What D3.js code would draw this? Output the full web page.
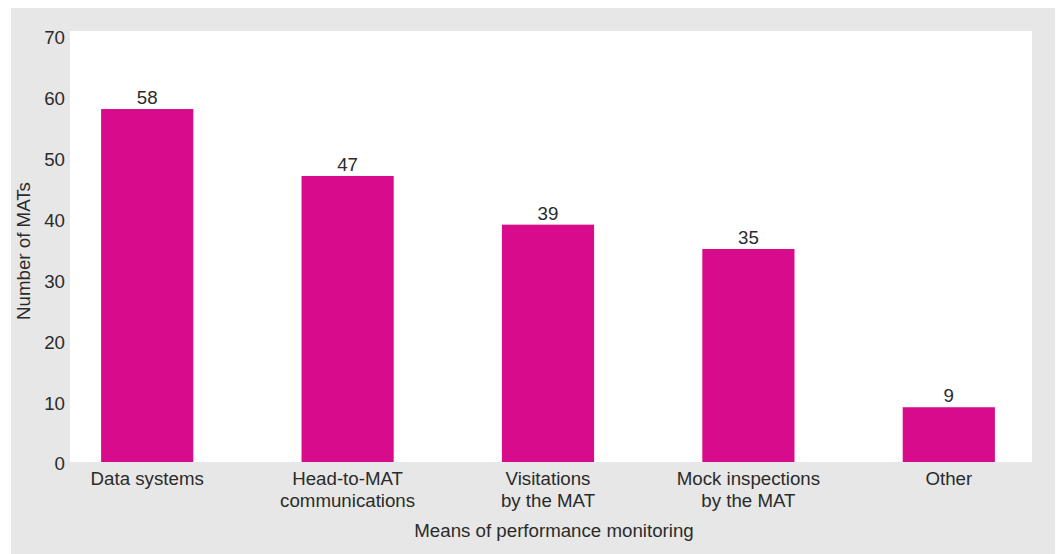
<!DOCTYPE html>
<html>
<head>
<meta charset="utf-8">
<script src="https://cdn.jsdelivr.net/npm/d3@7"></script>
<style>
  html, body { margin: 0; padding: 0; background: #ffffff; }
  svg { display: block; font-family: "Liberation Sans", Arial, Helvetica, sans-serif; }
</style>
</head>
<body>
<svg id="chart" width="1062" height="554"></svg>
<script>
// Means of performance monitoring used by MATs
const categories = [
  ["Data systems"],
  ["Head-to-MAT", "communications"],
  ["Visitations", "by the MAT"],
  ["Mock inspections", "by the MAT"],
  ["Other"]
];
const values = [58, 47, 39, 35, 9];
const yTicks = [0, 10, 20, 30, 40, 50, 60, 70];
const xTitle = "Means of performance monitoring";
const yTitle = "Number of MATs";

const svg = d3.select("#chart");
const textColor = "#2b2b2b";
const barColor = "#d80b8c";
const fs = 18.7;

// grey panel and white plotting area
svg.append("rect").attr("x", 11).attr("y", 8).attr("width", 1044).attr("height", 546).attr("fill", "#e6e7e6");
svg.append("rect").attr("x", 70).attr("y", 31).attr("width", 962).attr("height", 431).attr("fill", "#ffffff");

const keys = categories.map((c, i) => i);
const x = d3.scaleBand().domain(keys).range([47, 1049]).paddingInner(0.54).paddingOuter(0.27);
const y = d3.scaleLinear().domain([0, 70]).range([462, 36]);

// bars
svg.append("g").selectAll("rect").data(values).join("rect")
  .attr("x", (d, i) => x(i))
  .attr("y", d => y(d))
  .attr("width", x.bandwidth())
  .attr("height", d => y(0) - y(d))
  .attr("fill", barColor);

// value labels
svg.append("g").selectAll("text").data(values).join("text")
  .attr("x", (d, i) => x(i) + x.bandwidth() / 2)
  .attr("y", d => y(d) - 5)
  .attr("text-anchor", "middle")
  .attr("font-size", fs)
  .attr("fill", textColor)
  .text(d => d);

// y axis (labels only)
const yAxis = d3.axisLeft(y).tickValues(yTicks).tickSize(0).tickPadding(0);
const yg = svg.append("g").attr("transform", "translate(65,0)").call(yAxis);
yg.select(".domain").remove();
yg.selectAll("text").attr("font-size", fs).attr("fill", textColor)
  .attr("font-family", "Liberation Sans, Arial, sans-serif").attr("dy", "0.42em");

// x axis labels (multi-line)
const xAxis = d3.axisBottom(x).tickSize(0).tickFormat("");
const xg = svg.append("g").attr("transform", "translate(0,462)").call(xAxis);
xg.select(".domain").remove();
xg.selectAll(".tick").each(function(d) {
  const t = d3.select(this).append("text")
    .attr("text-anchor", "middle")
    .attr("font-size", fs)
    .attr("fill", textColor)
    .attr("font-family", "Liberation Sans, Arial, sans-serif");
  categories[d].forEach((line, j) => {
    t.append("tspan").attr("x", 0).attr("y", 23 + j * 22).text(line);
  });
});

// axis titles
svg.append("text")
  .attr("x", 554)
  .attr("y", 537)
  .attr("text-anchor", "middle")
  .attr("font-size", fs)
  .attr("fill", textColor)
  .text(xTitle);

svg.append("text")
  .attr("transform", "translate(30,251) rotate(-90)")
  .attr("text-anchor", "middle")
  .attr("font-size", fs)
  .attr("fill", textColor)
  .text(yTitle);
</script>
</body>
</html>
